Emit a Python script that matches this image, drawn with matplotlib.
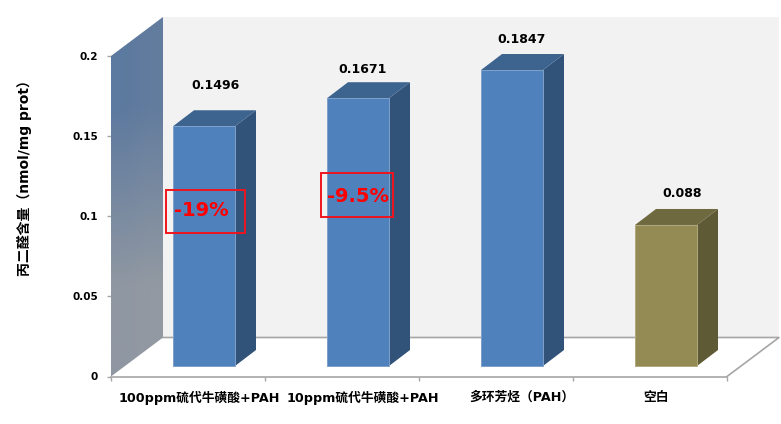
import numpy as np
import matplotlib
matplotlib.use('Agg')
import matplotlib.pyplot as plt
from matplotlib.patches import Polygon, Rectangle
from matplotlib.transforms import Affine2D

plt.rcParams['font.family'] = ['DejaVu Sans', 'Noto Sans CJK SC']
plt.rcParams['font.weight'] = 'bold'

categories = ['100ppm硫代牛磺酸+PAH', '10ppm硫代牛磺酸+PAH', '多环芳烃（PAH）', '空白']
values = [0.1496, 0.1671, 0.1847, 0.088]
value_labels = ['0.1496', '0.1671', '0.1847', '0.088']
y_ticks = [0, 0.05, 0.1, 0.15, 0.2]
y_tick_labels = ['0', '0.05', '0.1', '0.15', '0.2']
ylabel = '丙二醛含量（nmol/mg prot）'

front = ['#4f81bd', '#4f81bd', '#4f81bd', '#948a54']
side = ['#315279', '#315279', '#315279', '#5e5a35']
top = ['#3d638f', '#3d638f', '#3d638f', '#6f6940']
edge = ['#7fa0c8', '#7fa0c8', '#7fa0c8', '#b0a97c']

W, H = 781, 424
L, R, T, B = 111, 727, 56, 376.5

fig = plt.figure(figsize=(W / 100, H / 100), dpi=100)
ax = fig.add_axes([L / W, 1 - B / H, (R - L) / W, (B - T) / H])
ax.set_xlim(0, 4)
ax.set_ylim(0, 0.2)

# pixel -> data units
ux = 4 / (R - L)
uy = 0.2 / (B - T)
wall_dx, wall_dy = 52 * ux, 39 * uy
bar_dx, bar_dy = 21 * ux, 16 * uy


def figpx(x, y):
    return x / W, 1 - y / H


# back wall + floor
ax.add_patch(Polygon([(wall_dx, wall_dy), (4 + wall_dx, wall_dy), (4 + wall_dx, 0.2 + wall_dy),
                      (wall_dx, 0.2 + wall_dy)], fc='#f2f2f2', ec='none', clip_on=False, zorder=1))
ax.add_patch(Polygon([(0, 0), (4, 0), (4 + wall_dx, wall_dy), (wall_dx, wall_dy)],
                     fc='white', ec='none', clip_on=False, zorder=1.5))
ax.plot([wall_dx, 4 + wall_dx, 4], [wall_dy, wall_dy, 0], color='#a6a6a6', lw=1.2,
        clip_on=False, zorder=2)

# left wall, gradient
wall_colors = np.array([[[0x5c, 0x79, 0x9f], [0x62, 0x7c, 0x9e]],
                        [[0x8f, 0x97, 0xa2], [0x92, 0x99, 0xa2]]]) / 255
im = ax.imshow(wall_colors, extent=(0, wall_dx, 0, 0.2 + wall_dy), aspect='auto',
               interpolation='bilinear', zorder=2)
wall_clip = Polygon([(0, 0), (wall_dx, wall_dy), (wall_dx, 0.2 + wall_dy), (0, 0.2)],
                    transform=ax.transData, fc='none', ec='none', clip_on=False)
ax.add_patch(wall_clip)
im.set_clip_path(wall_clip)
# images fall back on the axes box without an explicit clip box
im.set_clip_box(fig.bbox)
ax.set_xlim(0, 4)
ax.set_ylim(0, 0.2)

# bars
x = np.arange(4) + 0.5
width = 62 * ux
shift = Affine2D().translate(16, 10.5)
bars = ax.bar(x, values, width=width, color=front, edgecolor=edge, linewidth=0.7, zorder=4)
for i, b in enumerate(bars):
    b.set_transform(ax.transData + shift)
    b.set_clip_on(False)
    x0, x1, v = x[i] - width / 2, x[i] + width / 2, values[i]
    ax.add_patch(Polygon([(x1, 0), (x1 + bar_dx, bar_dy), (x1 + bar_dx, v + bar_dy), (x1, v)],
                         fc=side[i], ec='none', transform=ax.transData + shift,
                         clip_on=False, zorder=3))
    ax.add_patch(Polygon([(x0, v), (x1, v), (x1 + bar_dx, v + bar_dy), (x0 + bar_dx, v + bar_dy)],
                         fc=top[i], ec='none', transform=ax.transData + shift,
                         clip_on=False, zorder=3))

# value labels
label_dx = [28, 21, 26, 32]
label_dy = [51, 39, 41, 42]
for i, v in enumerate(values):
    ax.annotate(value_labels[i], (x[i], v), xytext=(label_dx[i] * 0.72, label_dy[i] * 0.72),
                textcoords='offset points', ha='center', va='center', fontsize=9,
                color='black', zorder=6, annotation_clip=False)

# axes
for s in ['top', 'right', 'left']:
    ax.spines[s].set_visible(False)
ax.spines['bottom'].set_color('#a6a6a6')
ax.spines['bottom'].set_linewidth(1.2)
ax.spines['bottom'].set_zorder(5)
ax.set_yticks(y_ticks)
ax.set_yticklabels(y_tick_labels, fontsize=7.5)
ax.tick_params(axis='y', length=3, width=1, color='#a6a6a6', pad=6.5)
ax.set_xticks(range(5))
ax.set_xticklabels([])
ax.tick_params(axis='x', length=3, width=1, color='#a6a6a6')
ax.set_facecolor('none')

cat_dx = [11, 21, 26, 6]
for i, c in enumerate(categories):
    ax.annotate(c, (x[i], 0), xytext=(cat_dx[i] * 0.72, -21 * 0.72), textcoords='offset points',
                ha='center', va='center', fontsize=9.2, color='black', annotation_clip=False)

fx, fy = figpx(25, 175)
fig.text(fx, fy, ylabel, rotation=90, ha='center', va='center', fontsize=10)

# red boxes
boxes = [(166, 190, 245, 233), (321, 173, 393, 217)]
box_text = ['-19%', '-9.5%']
box_center = [(201, 211), (358, 196)]
for (x0, y0, x1, y1), t, (cx, cy) in zip(boxes, box_text, box_center):
    fx0, fy1 = figpx(x0, y1)
    fx1, fy0 = figpx(x1, y0)
    fig.add_artist(Rectangle((fx0, fy1), fx1 - fx0, fy0 - fy1, transform=fig.transFigure,
                             fc='none', ec='#f0141e', lw=1.4))
    fx, fy = figpx(cx, cy)
    fig.text(fx, fy, t, color='#ff0000', fontsize=14, ha='center', va='center')

fig.savefig('out.png', dpi=100)
